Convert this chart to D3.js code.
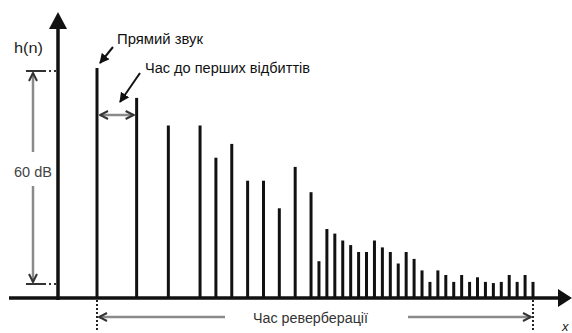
<!DOCTYPE html>
<html>
<head>
<meta charset="utf-8">
<script src="https://cdn.jsdelivr.net/npm/d3@7"></script>
<style>
  html, body { margin: 0; padding: 0; background: #fff; }
  svg { display: block; }
  text { font-family: "Liberation Sans Narrow", "Liberation Sans", Arial, sans-serif; }
</style>
</head>
<body>
<div id="chart"></div>
<script>
const width = 572, height = 333;

// impulse response: sample index n and relative amplitude
const sampleIdx = [0, 5, 9, 13, 15, 17, 19, 21, 23, 25, 27, 28, 29, 30, 31, 32, 33, 34, 35, 36,
  37, 38, 39, 40, 41, 42, 43, 44, 45, 46, 47, 48, 49, 50, 51, 52, 53, 54, 55];
const amplitude = [1.0, 0.87, 0.75, 0.75, 0.61, 0.67, 0.51, 0.51, 0.39, 0.57, 0.46, 0.16, 0.30, 0.28,
  0.25, 0.23, 0.20, 0.20, 0.25, 0.22, 0.20, 0.15, 0.20, 0.17, 0.12, 0.07, 0.12, 0.10, 0.07, 0.10,
  0.07, 0.09, 0.07, 0.065, 0.07, 0.10, 0.07, 0.10, 0.07];

const yLabel = "h(n)", xLabel = "x";
const directLabel = "Прямий звук";
const firstReflLabel = "Час до перших відбиттів";
const reverbLabel = "Час реверберації";
const rangeLabel = "60 dB";

const x = d3.scaleLinear().domain([0, 55]).range([97, 533]);
const y = d3.scaleLinear().domain([0, 1]).range([298, 68]);
const axisX = 58;

const svg = d3.select("#chart").append("svg")
  .attr("width", width)
  .attr("height", height);

const defs = svg.append("defs");
// chevron arrowhead for dimension lines
defs.append("marker")
  .attr("id", "chev")
  .attr("viewBox", "0 0 10 10")
  .attr("refX", 9).attr("refY", 5)
  .attr("markerWidth", 10).attr("markerHeight", 10)
  .attr("markerUnits", "userSpaceOnUse")
  .attr("orient", "auto-start-reverse")
  .append("path")
  .attr("d", "M1,1 L9,5 L1,9")
  .attr("fill", "none")
  .attr("stroke", "#333")
  .attr("stroke-width", 2);
// filled arrowhead for annotations
defs.append("marker")
  .attr("id", "solid")
  .attr("viewBox", "0 0 10 10")
  .attr("refX", 9).attr("refY", 5)
  .attr("markerWidth", 10).attr("markerHeight", 10)
  .attr("markerUnits", "userSpaceOnUse")
  .attr("orient", "auto")
  .append("path")
  .attr("d", "M0,0 L10,5 L0,10 Z")
  .attr("fill", "#111");

const data = sampleIdx.map((n, i) => ({ n, a: amplitude[i] }));

// impulses
svg.append("g")
  .selectAll("line")
  .data(data)
  .join("line")
  .attr("x1", d => x(d.n)).attr("x2", d => x(d.n))
  .attr("y1", y(0)).attr("y2", d => y(d.a))
  .attr("stroke", "#111")
  .attr("stroke-width", 3);

// axes
svg.append("line")
  .attr("x1", 9).attr("x2", 562)
  .attr("y1", y(0)).attr("y2", y(0))
  .attr("stroke", "#111").attr("stroke-width", 3.5);
svg.append("path")
  .attr("d", `M572,${y(0)} L558,${y(0) - 9} L558,${y(0) + 9} Z`)
  .attr("fill", "#111");
svg.append("line")
  .attr("x1", axisX).attr("x2", axisX)
  .attr("y1", y(0) + 2).attr("y2", 26)
  .attr("stroke", "#111").attr("stroke-width", 3.5);
svg.append("path")
  .attr("d", `M${axisX},12 L${axisX - 9},29 L${axisX + 9},29 Z`)
  .attr("fill", "#111");

svg.append("text")
  .attr("x", 14).attr("y", 53)
  .attr("font-size", 15)
  .attr("textLength", 29).attr("lengthAdjust", "spacingAndGlyphs")
  .attr("fill", "#222")
  .text(yLabel);

svg.append("text")
  .attr("x", 562).attr("y", 331)
  .attr("font-size", 13)
  .attr("font-style", "italic")
  .attr("font-family", "DejaVu Serif, serif")
  .attr("fill", "#222")
  .text(xLabel);

// 60 dB dimension
const dimX = 33, dTop = 71, dBot = 284;
[dTop, dBot].forEach(yy => {
  svg.append("line")
    .attr("x1", 26).attr("x2", 44).attr("y1", yy).attr("y2", yy)
    .attr("stroke", "#333").attr("stroke-width", 2);
  svg.append("line")
    .attr("x1", 44).attr("x2", axisX).attr("y1", yy).attr("y2", yy)
    .attr("stroke", "#333").attr("stroke-width", 2)
    .attr("stroke-dasharray", "2,3");
});
svg.append("line")
  .attr("x1", dimX).attr("x2", dimX).attr("y1", 152).attr("y2", dTop + 2)
  .attr("stroke", "#8a8a8a").attr("stroke-width", 2.5)
  .attr("marker-end", "url(#chev)");
svg.append("line")
  .attr("x1", dimX).attr("x2", dimX).attr("y1", 186).attr("y2", dBot - 2)
  .attr("stroke", "#8a8a8a").attr("stroke-width", 2.5)
  .attr("marker-end", "url(#chev)");
svg.append("text")
  .attr("x", dimX).attr("y", 177)
  .attr("text-anchor", "middle")
  .attr("font-size", 14)
  .attr("textLength", 38).attr("lengthAdjust", "spacingAndGlyphs")
  .attr("fill", "#444")
  .text(rangeLabel);

// first reflection gap
const x0 = x(sampleIdx[0]), x1 = x(sampleIdx[1]);
svg.append("line")
  .attr("x1", x0 + 3).attr("x2", x1 - 3).attr("y1", 115).attr("y2", 115)
  .attr("stroke", "#8a8a8a").attr("stroke-width", 2.5)
  .attr("marker-start", "url(#chev)")
  .attr("marker-end", "url(#chev)");

// reverberation time
const xEnd = x(sampleIdx[sampleIdx.length - 1]);
[x0, xEnd].forEach(xx => {
  svg.append("line")
    .attr("x1", xx).attr("x2", xx).attr("y1", y(0) + 2).attr("y2", 330)
    .attr("stroke", "#222").attr("stroke-width", 2)
    .attr("stroke-dasharray", "2,2");
});
svg.append("line")
  .attr("x1", 225).attr("x2", x0 + 2).attr("y1", 317).attr("y2", 317)
  .attr("stroke", "#8a8a8a").attr("stroke-width", 2.5)
  .attr("marker-end", "url(#chev)");
svg.append("line")
  .attr("x1", 408).attr("x2", xEnd - 2).attr("y1", 317).attr("y2", 317)
  .attr("stroke", "#8a8a8a").attr("stroke-width", 2.5)
  .attr("marker-end", "url(#chev)");
svg.append("text")
  .attr("x", 253).attr("y", 323)
  .attr("font-size", 14)
  .attr("textLength", 115).attr("lengthAdjust", "spacingAndGlyphs")
  .attr("fill", "#333")
  .text(reverbLabel);

// annotations
svg.append("line")
  .attr("x1", 113).attr("y1", 47).attr("x2", 100).attr("y2", 63)
  .attr("stroke", "#111").attr("stroke-width", 2)
  .attr("marker-end", "url(#solid)");
svg.append("text")
  .attr("x", 117).attr("y", 44)
  .attr("font-size", 14)
  .attr("textLength", 86).attr("lengthAdjust", "spacingAndGlyphs")
  .attr("fill", "#111")
  .text(directLabel);

svg.append("line")
  .attr("x1", 140).attr("y1", 73).attr("x2", 120).attr("y2", 102)
  .attr("stroke", "#111").attr("stroke-width", 2)
  .attr("marker-end", "url(#solid)");
svg.append("text")
  .attr("x", 145).attr("y", 73)
  .attr("font-size", 14)
  .attr("textLength", 165).attr("lengthAdjust", "spacingAndGlyphs")
  .attr("fill", "#111")
  .text(firstReflLabel);
</script>
</body>
</html>
